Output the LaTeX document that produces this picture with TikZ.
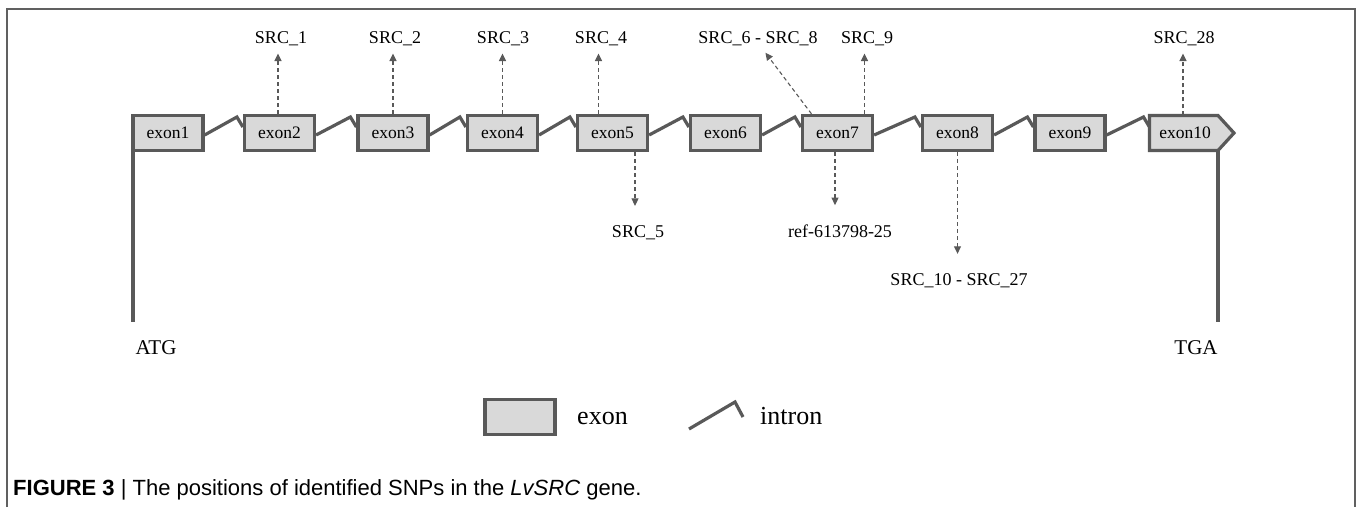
\documentclass[tikz,border=0pt]{standalone}
\usepackage{fontspec}
\setmainfont{Liberation Serif}
\newfontfamily\capfont{Liberation Sans}
\usetikzlibrary{arrows.meta,calc}
\definecolor{linec}{HTML}{595959}
\definecolor{boxc}{HTML}{D9D9D9}
\definecolor{framec}{HTML}{606060}
\begin{document}
\begin{tikzpicture}[x=1pt,y=-1pt,
  exonbox/.style={draw=linec, fill=boxc, line width=3.2pt, minimum width=70pt, minimum height=35pt, inner sep=0pt, font=\fontsize{17.5}{20}\selectfont},
  exontext/.style={inner sep=0pt, minimum width=70pt, minimum height=35pt, font=\fontsize{17.5}{20}\selectfont},
  intronline/.style={draw=linec, line width=3.2pt, line join=miter},
  snp/.style={draw=linec, line width=1.1pt, dash pattern=on 4pt off 3pt, -{Triangle[length=7.5pt,width=7pt]}},
  lbl/.style={inner sep=0pt, anchor=base, font=\fontsize{18}{20}\selectfont},
  endlbl/.style={inner sep=0pt, anchor=base, font=\fontsize{21}{24}\selectfont},
  leglbl/.style={inner sep=0pt, anchor=base west, font=\fontsize{26}{30}\selectfont},
]
\useasboundingbox (0,0) rectangle (1357,507);
\draw[framec, line width=1.6pt] (7,507) -- (7,9) -- (1355,9) -- (1355,507);

% exons
\node[exonbox] (e1) at (168,133) {exon1};
\node[exonbox] (e2) at (279.5,133) {exon2};
\node[exonbox] (e3) at (393,133) {exon3};
\node[exonbox] (e4) at (502.5,133) {exon4};
\node[exonbox] (e5) at (612.5,133) {exon5};
\node[exonbox] (e6) at (725.5,133) {exon6};
\node[exonbox] (e7) at (837.5,133) {exon7};
\node[exonbox] (e8) at (957.5,133) {exon8};
\node[exonbox] (e9) at (1070,133) {exon9};
\draw[draw=linec, fill=boxc, line width=3.2pt, line join=miter]
  (1149.5,115.5) -- (1218,115.5) -- (1234,133) -- (1218,150.5) -- (1149.5,150.5) -- cycle;
\node[exontext] (e10) at (1185,133) {exon10};

% introns
\foreach \a/\b in {e1/e2,e2/e3,e3/e4,e4/e5,e5/e6,e6/e7,e7/e8,e8/e9}{
  \draw[intronline] ($(\a.east)+(0,2)$) -- ($(\b.west)+(-6,-16)$) -- ($(\b.west)+(0,-6)$);
}
\coordinate (e10w) at (1149.5,133);
\draw[intronline] ($(e9.east)+(0,2)$) -- ($(e10w)+(-6,-16)$) -- ($(e10w)+(0,-6)$);

% start / stop
\coordinate (atgtop) at (133,150);
\coordinate (atgend) at (133,322);
\draw[intronline] (atgtop) -- (atgend);
\node[endlbl] (atg) at (156,354) {ATG};
\coordinate (tgatop) at (1218,150);
\coordinate (tgaend) at (1218,322);
\draw[intronline] (tgatop) -- (tgaend);
\node[endlbl] (tga) at (1196,354) {TGA};

% SNP labels
\node[lbl] (s1) at (281,43) {SRC\_1};
\node[lbl] (s2) at (395,43) {SRC\_2};
\node[lbl] (s3) at (503,43) {SRC\_3};
\node[lbl] (s4) at (601,43) {SRC\_4};
\node[lbl] (s68) at (758,43) {SRC\_6 - SRC\_8};
\node[lbl] (s9) at (867,43) {SRC\_9};
\node[lbl] (s28) at (1184,43) {SRC\_28};
\node[lbl] (s5) at (638,237) {SRC\_5};
\node[lbl] (sref) at (840,237) {ref-613798-25};
\node[lbl] (s10) at (959,285) {SRC\_10 - SRC\_27};

% SNP arrows
\draw[snp, shorten >=8pt] ([xshift=-1.5pt]e2.north) -- ([xshift=-1.5pt]e2.north |- s1.south);
\draw[snp, shorten >=8pt] (e3.north) -- (e3.north |- s2.south);
\draw[snp, shorten >=8pt] (e4.north) -- (e4.north |- s3.south);
\draw[snp, shorten >=8pt] ([xshift=-14pt]e5.north) -- ([xshift=-14pt]e5.north |- s4.south);
\draw[snp, shorten >=9pt] ([xshift=-26pt]e7.north) -- ([xshift=2pt]s68.south);
\draw[snp, shorten >=8pt] ([xshift=27pt]e7.north) -- ([xshift=27pt]e7.north |- s9.south);
\draw[snp, shorten >=8pt] ([xshift=-2pt]e10.north) -- ([xshift=-2pt]e10.north |- s28.south);
\draw[snp, shorten >=19pt] ([xshift=22.5pt]e5.south) -- ([xshift=22.5pt]e5.south |- s5.north);
\draw[snp, shorten >=19pt] ([xshift=-2.5pt]e7.south) -- ([xshift=-2.5pt]e7.south |- sref.north);
\draw[snp, shorten >=19pt] (e8.south) -- (e8.south |- s10.north);

% legend
\node[exonbox] (legbox) at (520,417) {};
\node[leglbl] (legexon) at (577,424) {exon};
\coordinate (ia) at (689,429);
\coordinate (ib) at (735,402);
\coordinate (ic) at (743,417);
\draw[intronline] (ia) -- (ib) -- (ic);
\node[leglbl] (legintron) at (760,424) {intron};

% caption
\node[inner sep=0pt, anchor=base west, font=\capfont\fontsize{22}{25}\selectfont] (cap) at (13,495)
  {\textbf{FIGURE 3} | The positions of identified SNPs in the \textit{LvSRC} gene.};
\end{tikzpicture}
\end{document}
